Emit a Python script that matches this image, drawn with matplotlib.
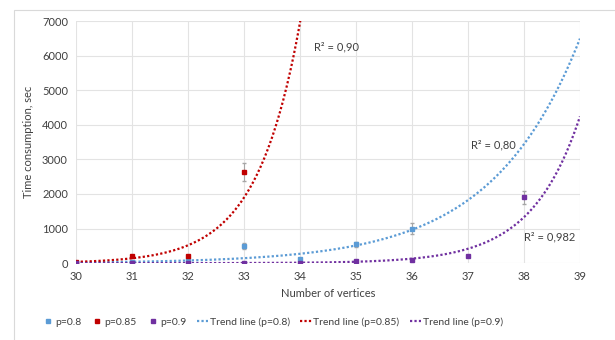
import numpy as np
import matplotlib
matplotlib.use("Agg")
import matplotlib.pyplot as plt
from matplotlib.patches import Rectangle

plt.rcParams['font.family'] = ['Lato', 'DejaVu Sans']

# measured points
x_08 = [30, 31, 32, 33, 34, 35, 36]
y_08 = [10, 30, 100, 500, 130, 540, 1000]
e_08 = [0, 0, 0, 80, 0, 80, 150]

x_085 = [30, 31, 32, 33]
y_085 = [30, 220, 200, 2640]
e_085 = [0, 0, 0, 250]

x_09 = [30, 31, 32, 33, 34, 35, 36, 37, 38]
y_09 = [0, 0, 5, 10, 10, 60, 90, 200, 1900]
e_09 = [0, 0, 0, 0, 0, 0, 0, 0, 200]

# exponential trend lines y = a*exp(b*(x-30))
trend_08 = (21.4, 0.635)
trend_085 = (38.5, 1.30)
trend_09 = (0.124, 1.16)

r2_labels = ["R² = 0,80", "R² = 0,90", "R² = 0,982"]
r2_pos = [(37.05, 3330), (34.25, 6150), (38.0, 650)]

c_blue = '#5B9BD5'
c_red = '#C00000'
c_purple = '#7030A0'

fig = plt.figure(figsize=(6.15, 3.4), dpi=100)
ax = fig.add_axes([0.124, 0.226, 0.819, 0.712])

# chart frame
fig.patches.append(Rectangle((14/615, -0.1), 1.0, 1 - 10/340 + 0.1, transform=fig.transFigure,
                             fill=False, edgecolor='#D9D9D9', lw=0.8))

xx = np.linspace(30, 39, 400)
for (a, b), col, lab in [(trend_08, c_blue, 'Trend line (p=0.8)'),
                         (trend_085, c_red, 'Trend line (p=0.85)'),
                         (trend_09, c_purple, 'Trend line (p=0.9)')]:
    ax.plot(xx, a * np.exp(b * (xx - 30)), ls=(0, (1, 1)), color=col, lw=1.6, label=lab, zorder=2)

for xs, ys, es, col, lab in [(x_08, y_08, e_08, c_blue, 'p=0.8'),
                             (x_085, y_085, e_085, c_red, 'p=0.85'),
                             (x_09, y_09, e_09, c_purple, 'p=0.9')]:
    ax.errorbar(xs, ys, yerr=es, fmt='none', ecolor='#A6A6A6',
                elinewidth=0.8, capsize=1.5, zorder=3)
    ax.plot(xs, ys, 's', ms=3.5, color=col, label=lab, zorder=4)

for t, (px, py) in zip(r2_labels, r2_pos):
    ax.text(px, py, t, fontsize=8, color='#404040')

ax.set_xlim(30, 39)
ax.set_ylim(0, 7000)
ax.set_xticks(range(30, 40))
ax.set_yticks(range(0, 7001, 1000))
ax.grid(color='#E3E3E3', lw=0.8)
ax.set_axisbelow(True)
for s in ax.spines.values():
    s.set_visible(False)
ax.tick_params(length=0, labelsize=8, labelcolor='#404040', pad=6)
ax.set_xlabel('Number of vertices', fontsize=8, color='#404040', labelpad=4)
ax.set_ylabel('Time consumption, sec', fontsize=8, color='#404040', labelpad=6)

h, l = ax.get_legend_handles_labels()
order = [3, 4, 5, 0, 1, 2]
fig.legend([h[i] for i in order], [l[i] for i in order], loc='center',
           bbox_to_anchor=(0.443, 0.053), ncol=6, frameon=False, fontsize=7.5,
           handlelength=1.1, columnspacing=1.0, handletextpad=0.15, labelcolor='#404040',
           markerscale=0.8)

fig.savefig('out.png', dpi=100)
